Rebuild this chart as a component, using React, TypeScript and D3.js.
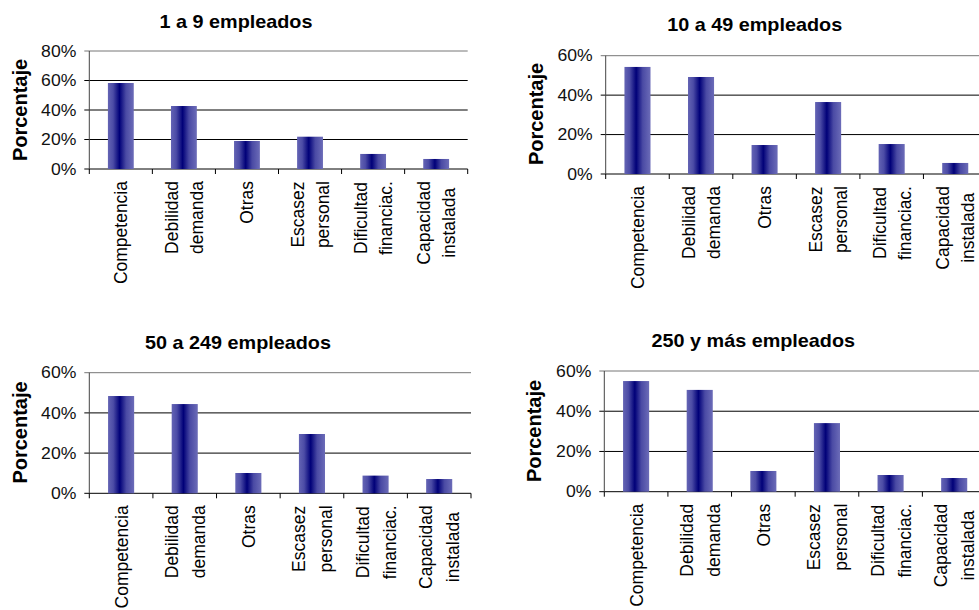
import React from "react";
import * as d3 from "d3";

const categories: string[][] = [
  ["Competencia"],
  ["Debilidad", "demanda"],
  ["Otras"],
  ["Escasez", "personal"],
  ["Dificultad", "financiac."],
  ["Capacidad", "instalada"],
];
const titles = ["1 a 9 empleados", "10 a 49 empleados", "50 a 249 empleados", "250 y más empleados"];
const values1 = [58.3, 42.7, 19.0, 21.9, 10.2, 6.8];
const values2 = [54.3, 49.2, 14.7, 36.5, 15.2, 5.6];
const values3 = [48.4, 44.4, 10.1, 29.5, 8.8, 7.1];
const values4 = [55.0, 50.6, 10.3, 34.1, 8.3, 6.8];
const yMaxes = [80, 60, 60, 60];
const yLabel = "Porcentaje";

const seriesList = [values1, values2, values3, values4];

const layout = [
  { x0: 89.3, x1: 467.7, yTop: 51, yBot: 169, tx: 236, ty: 28, px: 20, py: 110, gap: 25 },
  { x0: 605.7, x1: 987, yTop: 55.7, yBot: 174, tx: 754.7, ty: 31, px: 536, py: 114, gap: 25 },
  { x0: 89.3, x1: 471, yTop: 372.7, yBot: 493.3, tx: 238, ty: 349.3, px: 20, py: 432.5, gap: 27 },
  { x0: 604.3, x1: 986, yTop: 371, yBot: 491.7, tx: 753.3, ty: 346.7, px: 534, py: 431, gap: 27 },
];

const FONT = "'Liberation Sans', Arial, Helvetica, sans-serif";
const CAT_SIZE = 17.5;
const SX = 1.1; // horizontal stretch of text seen in reference

let ctx: CanvasRenderingContext2D | null = null;
function measure(t: string): number {
  if (!ctx) {
    const c = document.createElement("canvas");
    ctx = c.getContext("2d");
  }
  if (!ctx) return t.length * CAT_SIZE * 0.55;
  ctx.font = `${CAT_SIZE}px ${FONT}`;
  return ctx.measureText(t).width;
}

function Panel({ idx }: { idx: number }) {
  const L = layout[idx];
  const vals = seriesList[idx];
  const x = d3
    .scaleBand<string>()
    .domain(categories.map((c) => c.join(" ")))
    .range([L.x0, L.x1])
    .paddingInner(0)
    .paddingOuter(0);
  const y = d3.scaleLinear().domain([0, yMaxes[idx]]).range([L.yBot, L.yTop]);
  const ticks = d3.range(0, yMaxes[idx] + 1, 20);
  const bw = x.bandwidth();
  const barW = bw * 0.41;
  const boundaries = categories.map((c) => x(c.join(" "))!).concat([L.x1]);
  const catSX = 1.09;
  return (
    <g>
      <g transform={`translate(${L.tx},${L.ty}) scale(${SX},1)`}>
        <text x={0} y={0} textAnchor="middle" fontFamily={FONT} fontWeight="bold" fontSize={18} fill="#000">
          {titles[idx]}
        </text>
      </g>
      <text
        transform={`translate(${L.px},${L.py}) rotate(-90) scale(1,1.05)`}
        textAnchor="middle"
        dy="0.35em"
        fontFamily={FONT}
        fontWeight="bold"
        fontSize={20}
        fill="#000"
      >
        {yLabel}
      </text>
      {ticks.map((t) => (
        <g key={t}>
          <line
            x1={L.x0 - 5}
            x2={L.x1}
            y1={y(t)}
            y2={y(t)}
            stroke={t === yMaxes[idx] ? "#777" : "#000"}
            strokeWidth={1}
          />
          <g transform={`translate(${L.x0 - 13},${y(t)}) scale(${SX},1)`}>
            <text x={0} y={0} dy="0.36em" textAnchor="end" fontFamily={FONT} fontSize={16} fill="#111">
              {`${t}%`}
            </text>
          </g>
        </g>
      ))}
      <line x1={L.x0} x2={L.x0} y1={L.yTop} y2={L.yBot} stroke="#444" />
      {boundaries.map((b, i) => (
        <line key={i} x1={b} x2={b} y1={L.yBot} y2={L.yBot + 5} stroke="#000" />
      ))}
      {vals.map((v, i) => {
        const cx = x(categories[i].join(" "))! + bw / 2;
        return (
          <rect
            key={i}
            x={cx - barW / 2}
            y={y(v)}
            width={barW}
            height={L.yBot - y(v)}
            fill="url(#barGrad)"
          />
        );
      })}
      {categories.map((lines, i) => {
        const cx = x(lines.join(" "))! + bw / 2;
        const maxLen = Math.max(...lines.map(measure));
        const n = lines.length;
        return (
          <g
            key={i}
            transform={`translate(${cx},${L.yBot + 12 + maxLen / 2}) rotate(-90) scale(1,${catSX})`}
          >
            {lines.map((ln, j) => (
              <text
                key={j}
                x={0}
                y={(6.5 + (j - (n - 1) / 2) * L.gap) / catSX}
                textAnchor="middle"
                fontFamily={FONT}
                fontSize={CAT_SIZE}
                fill="#000"
              >
                {ln}
              </text>
            ))}
          </g>
        );
      })}
    </g>
  );
}

export default function App() {
  return (
    <svg
      width={979}
      height={610}
      style={{ position: "absolute", left: 0, top: 0, background: "#fff" }}
    >
      <defs>
        <linearGradient id="barGrad" x1="0" x2="1" y1="0" y2="0">
          <stop offset="0%" stopColor="#6464b4" />
          <stop offset="20%" stopColor="#4c4ca6" />
          <stop offset="45%" stopColor="#000078" />
          <stop offset="70%" stopColor="#4a4aa4" />
          <stop offset="100%" stopColor="#6c6cb8" />
        </linearGradient>
      </defs>
      <rect x={0} y={0} width={979} height={610} fill="#fff" />
      {[0, 1, 2, 3].map((i) => (
        <Panel key={i} idx={i} />
      ))}
    </svg>
  );
}
